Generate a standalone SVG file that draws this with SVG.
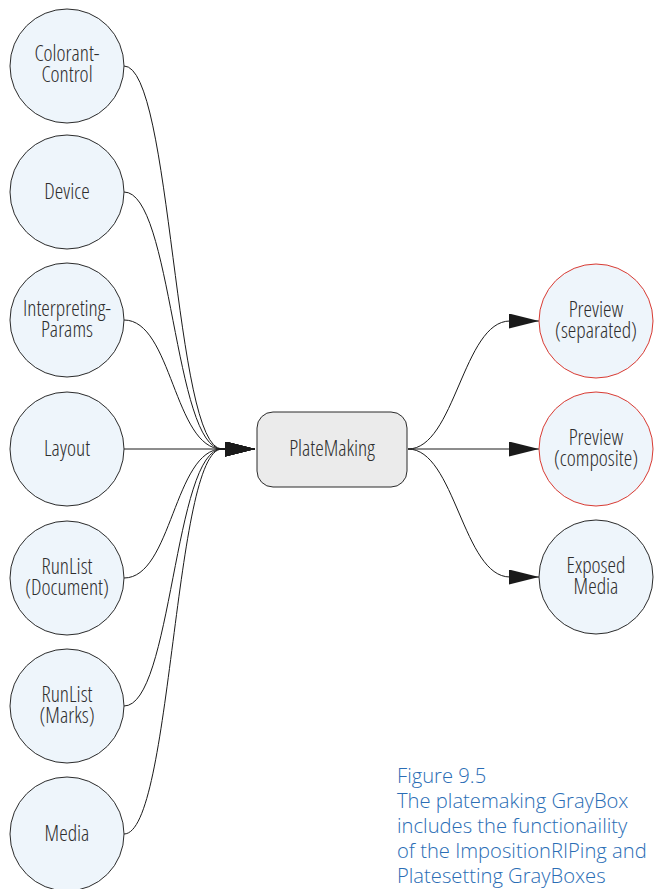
<svg xmlns="http://www.w3.org/2000/svg" width="656" height="889" viewBox="0 0 656 889">
  <style>
    .res { fill: #eef5fb; stroke: #2b2b2b; stroke-width: 1; }
    .res.out { stroke: #d93a32; }
    .proc { fill: #ebebeb; stroke: #2b2b2b; stroke-width: 1; }
    .lbl { font-family: "Open Sans", "Noto Sans", sans-serif; font-size: 21.5px; font-weight: 300; font-stretch: 80%; fill: #2e2e2e; text-anchor: middle; }
    .edge { fill: none; stroke: #1a1a1a; stroke-width: 1; marker-end: url(#arrow); }
    .caption { font-family: "Open Sans", "Noto Sans", sans-serif; font-size: 20.2px; font-weight: 300; fill: #2a6db5; }
  </style>
  <defs>
    <marker id="arrow" viewBox="0 0 30 15" refX="30" refY="7.5" markerWidth="30" markerHeight="15" markerUnits="userSpaceOnUse" orient="auto">
      <path d="M0,0 L30,7.5 L0,15 Z" fill="#1a1a1a"/>
    </marker>
  </defs>

  <!-- connectors -->
  <g id="connectors">
    <path class="edge" d="M124,66 C172,66 174,449 222,449 L255,449"/>
    <path class="edge" d="M124,192 C172,192 174,449 222,449 L255,449"/>
    <path class="edge" d="M124,320 C172,320 174,449 222,449 L255,449"/>
    <path class="edge" d="M124,449 L255,449"/>
    <path class="edge" d="M124,578 C172,578 174,449 222,449 L255,449"/>
    <path class="edge" d="M124,706 C172,706 174,449 222,449 L255,449"/>
    <path class="edge" d="M124,834 C172,834 174,449 222,449 L255,449"/>
    <path class="edge" d="M408,449 C455,449 463,321 510,321 L539,321"/>
    <path class="edge" d="M408,449 L539,449"/>
    <path class="edge" d="M408,449 C455,449 463,577 510,577 L539,577"/>
  </g>

  <!-- input resources -->
  <g id="colorant-control">
    <circle class="res" cx="67" cy="66" r="57"/>
    <text class="lbl" x="67" y="61">Colorant-</text>
    <text class="lbl" x="67" y="82">Control</text>
  </g>
  <g id="device">
    <circle class="res" cx="67" cy="192" r="57"/>
    <text class="lbl" x="67" y="199">Device</text>
  </g>
  <g id="interpreting-params">
    <circle class="res" cx="67" cy="320" r="57"/>
    <text class="lbl" x="67" y="316">Interpreting-</text>
    <text class="lbl" x="67" y="337">Params</text>
  </g>
  <g id="layout">
    <circle class="res" cx="67" cy="449" r="57"/>
    <text class="lbl" x="67" y="456">Layout</text>
  </g>
  <g id="runlist-document">
    <circle class="res" cx="67" cy="578" r="57"/>
    <text class="lbl" x="67" y="574">RunList</text>
    <text class="lbl" x="67" y="595">(Document)</text>
  </g>
  <g id="runlist-marks">
    <circle class="res" cx="67" cy="706" r="57"/>
    <text class="lbl" x="67" y="702">RunList</text>
    <text class="lbl" x="67" y="723">(Marks)</text>
  </g>
  <g id="media">
    <circle class="res" cx="67" cy="834" r="57"/>
    <text class="lbl" x="67" y="841">Media</text>
  </g>

  <!-- process -->
  <g id="platemaking">
    <rect class="proc" x="257" y="412" width="150" height="75" rx="16" ry="16"/>
    <text class="lbl" x="332" y="456">PlateMaking</text>
  </g>

  <!-- output resources -->
  <g id="preview-separated">
    <circle class="res out" cx="596" cy="321" r="57"/>
    <text class="lbl" x="596" y="317">Preview</text>
    <text class="lbl" x="596" y="338">(separated)</text>
  </g>
  <g id="preview-composite">
    <circle class="res out" cx="596" cy="449" r="57"/>
    <text class="lbl" x="596" y="445">Preview</text>
    <text class="lbl" x="596" y="466">(composite)</text>
  </g>
  <g id="exposed-media">
    <circle class="res" cx="596" cy="577" r="57"/>
    <text class="lbl" x="596" y="573">Exposed</text>
    <text class="lbl" x="596" y="594">Media</text>
  </g>

  <!-- caption -->
  <g id="caption" class="caption">
    <text x="397" y="783">Figure 9.5</text>
    <text x="397" y="808">The platemaking GrayBox</text>
    <text x="397" y="833">includes the functionaility</text>
    <text x="397" y="858">of the ImpositionRIPing and</text>
    <text x="397" y="883">Platesetting GrayBoxes</text>
  </g>
</svg>
